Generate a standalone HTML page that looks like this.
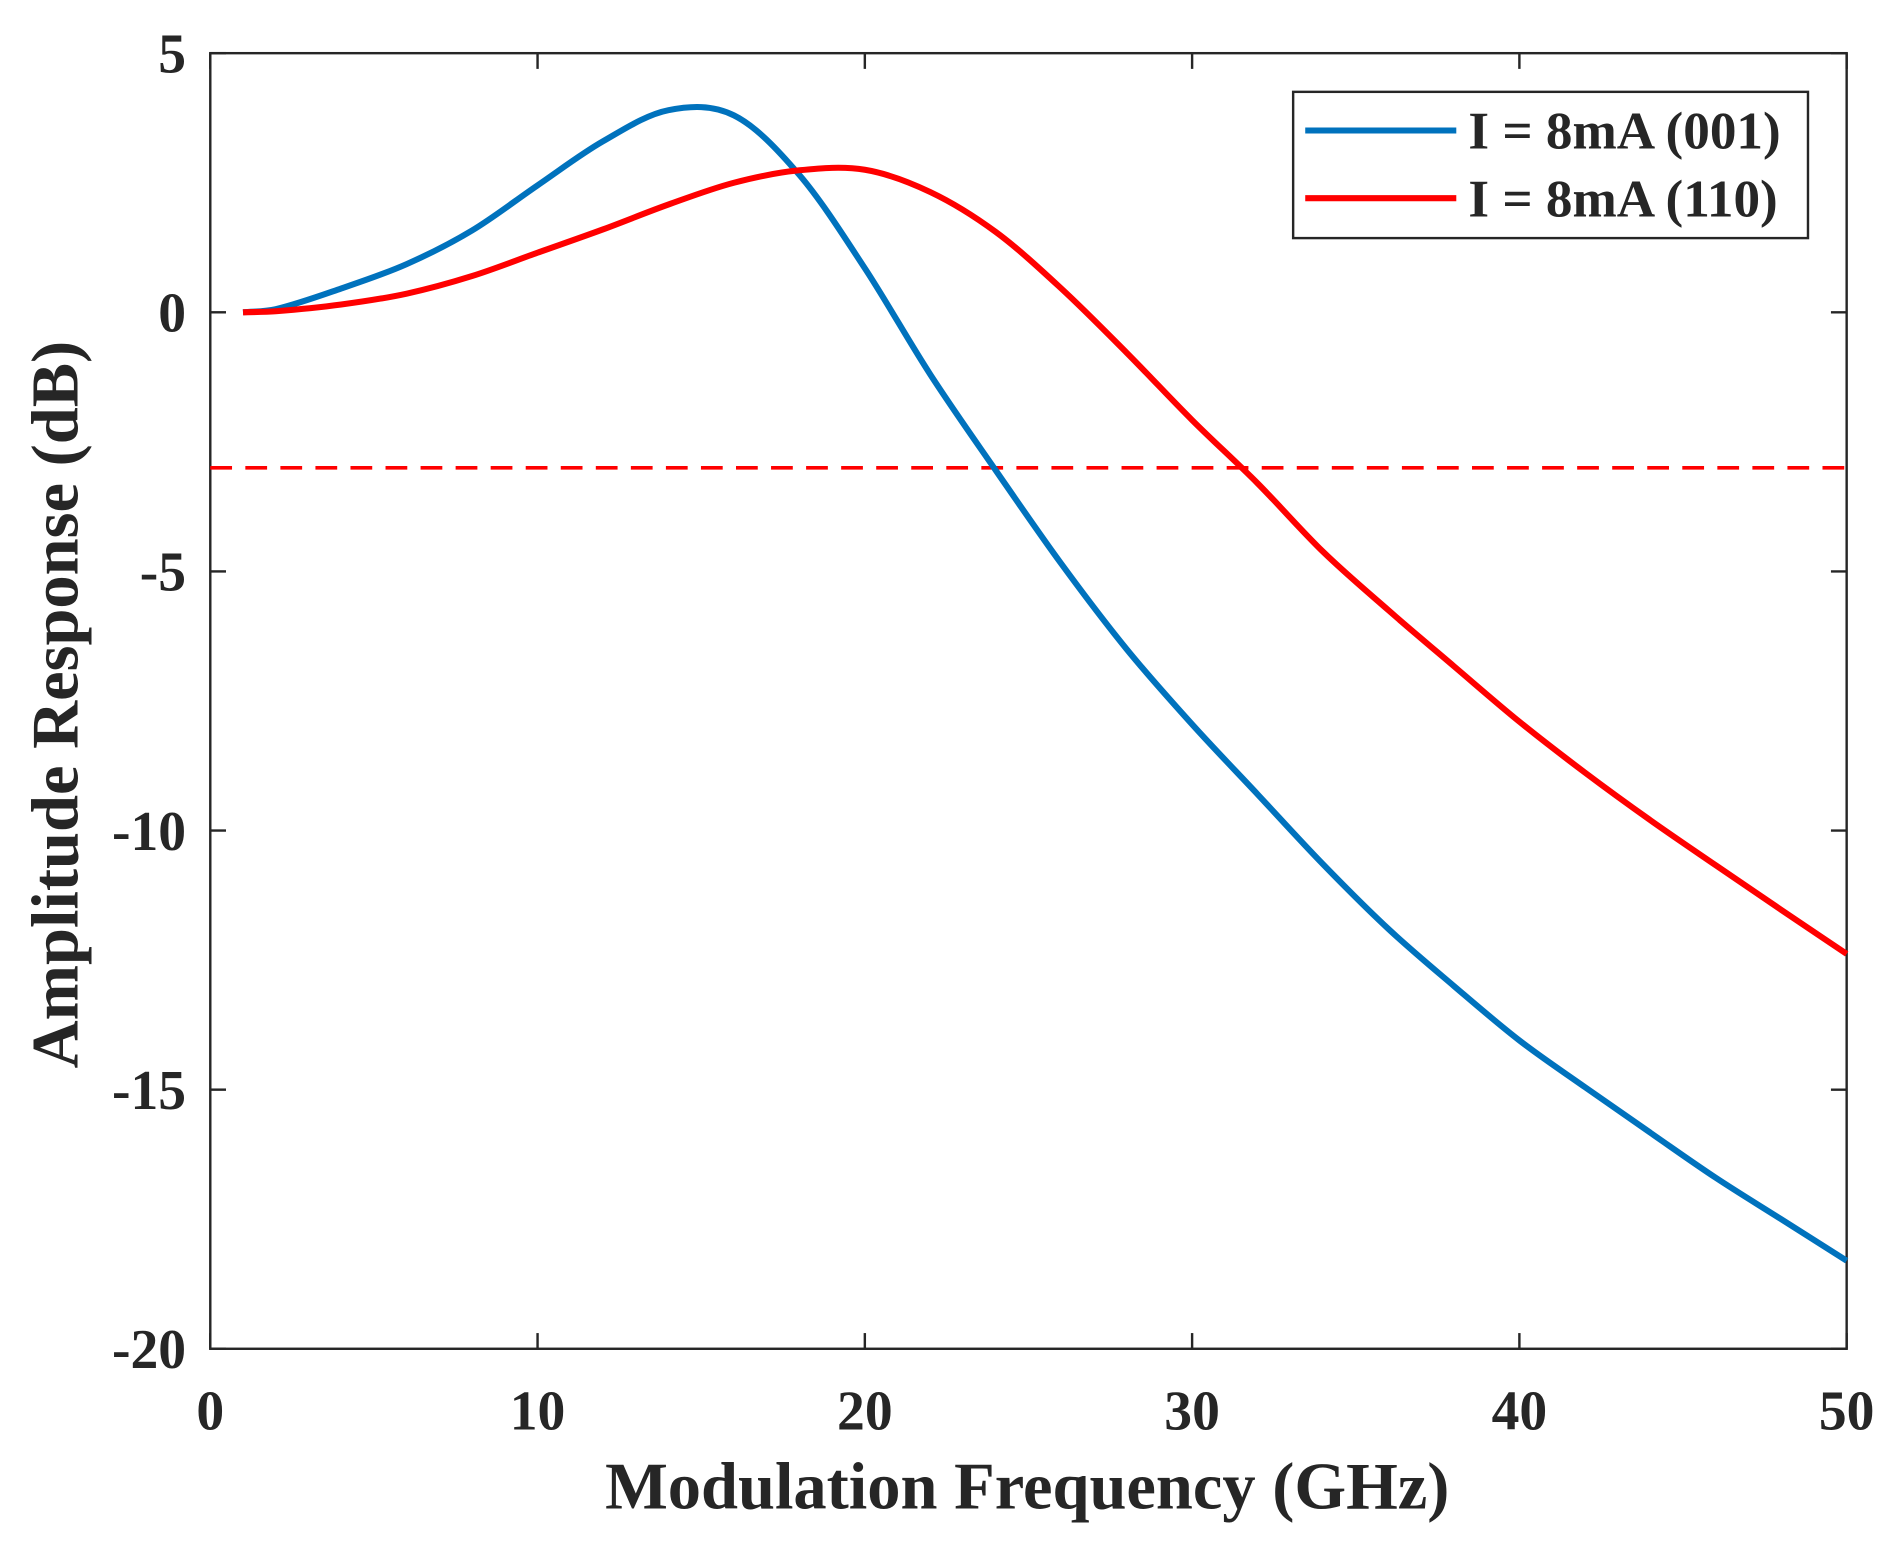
<!DOCTYPE html>
<html><head><meta charset="utf-8"><style>
html,body{margin:0;padding:0;background:#fff}
svg{display:block}
text{font-family:"Liberation Serif",serif;font-weight:bold;fill:#262626}
</style></head><body>
<svg id="chart" width="1895" height="1543" viewBox="0 0 1568 1276.7" preserveAspectRatio="none" xmlns="http://www.w3.org/2000/svg">
<g id="axes"></g>
<g id="series"></g>
<g id="legend">
<rect x="1070" y="76" width="426" height="121" fill="#fff" stroke="#262626" stroke-width="2"/>
<line x1="1080" y1="108" x2="1205" y2="108" stroke="#0072BD" stroke-width="5"/>
<text x="1215" y="123" font-size="44">I = 8mA (001)</text>
<line x1="1080" y1="164" x2="1205" y2="164" stroke="#FF0000" stroke-width="5"/>
<text x="1215" y="179" font-size="44">I = 8mA (110)</text>
</g>
</svg>
<script>
const xTicks=[0,10,20,30,40,50];
const yTicks=[5,0,-5,-10,-15,-20];
const freq001=[1,2,4,6,8,10,12,14,16,18,20,22,24,26,28,30,32,34,36,38,40,42,44,46,48,50];
const amp001=[0,0.06,0.46,0.93,1.58,2.45,3.3,3.9,3.8,2.65,0.85,-1.2,-3.05,-4.85,-6.5,-7.95,-9.3,-10.65,-11.9,-13.0,-14.05,-14.95,-15.83,-16.7,-17.5,-18.3];
const freq110=[1,2,4,6,8,10,12,14,16,18,20,22,24,26,28,30,32,34,36,38,40,42,44,46,48,50];
const amp110=[0,0.02,0.15,0.36,0.7,1.15,1.6,2.08,2.5,2.74,2.75,2.32,1.55,0.46,-0.78,-2.08,-3.3,-4.62,-5.75,-6.83,-7.9,-8.88,-9.8,-10.67,-11.53,-12.38];
const threshold=[-3];
const L=174,R=1528,T=44,B=1116;
const sx=v=>L+(v-0)/(50-0)*(R-L);
const sy=v=>T+(5-v)/(5+20)*(B-T);
const NS="http://www.w3.org/2000/svg";
function mk(tag,attrs,parent){const e=document.createElementNS(NS,tag);for(const k in attrs)e.setAttribute(k,attrs[k]);parent.appendChild(e);return e;}
const ax=document.getElementById('axes'),se=document.getElementById('series');
xTicks.forEach(t=>{
 let l=mk('line',{x1:sx(t),x2:sx(t),y1:B,y2:B-13,stroke:'#262626','stroke-width':2},ax);
 
 
 let l2=mk('line',{x1:sx(t),x2:sx(t),y1:T,y2:T+13,stroke:'#262626','stroke-width':2},ax);
 
 
 let tx=mk('text',{x:sx(t),y:B+67,'font-size':46,'text-anchor':'middle'},ax);tx.textContent=t;
 
 
});
yTicks.forEach(t=>{
 let l=mk('line',{x1:L,x2:L+13,y1:sy(t),y2:sy(t),stroke:'#262626','stroke-width':2},ax);
 
 
 let l2=mk('line',{x1:R,x2:R-13,y1:sy(t),y2:sy(t),stroke:'#262626','stroke-width':2},ax);
 
 
 let tx=mk('text',{x:L-20,y:sy(t)+16,'font-size':46,'text-anchor':'end'},ax);tx.textContent=t;
 
 
});
let box=mk('rect',{x:L,y:T,width:R-L,height:B-T,fill:'none',stroke:'#262626','stroke-width':2},ax);


let xt=mk('text',{x:850,y:1248,'font-size':55,'text-anchor':'middle'},ax);xt.textContent='Modulation Frequency (GHz)';


let yt=mk('text',{x:0,y:0,'font-size':55,'text-anchor':'middle',transform:`translate(64,583) rotate(-90)`},ax);yt.textContent='Amplitude Response (dB)';


function path(xs,ys){
 const p=xs.map((x,i)=>[sx(x),sy(ys[i])]);
 let d=`M${p[0][0]},${p[0][1]}`;
 for(let i=0;i<p.length-1;i++){
  const p0=p[Math.max(0,i-1)],p1=p[i],p2=p[i+1],p3=p[Math.min(p.length-1,i+2)];
  const h=p2[0]-p1[0];
  const m1=(p2[1]-p0[1])/(p2[0]-p0[0]||1),m2=(p3[1]-p1[1])/(p3[0]-p1[0]||1);
  const c1=[p1[0]+h/3,p1[1]+m1*h/3],c2=[p2[0]-h/3,p2[1]-m2*h/3];
  d+=` C${c1[0]},${c1[1]} ${c2[0]},${c2[1]} ${p2[0]},${p2[1]}`;
 }
 return d;
}
let th=mk('line',{x1:L,x2:R,y1:sy(threshold[0]),y2:sy(threshold[0]),stroke:'#FF0000','stroke-width':3,'stroke-dasharray':'18 11'},se);


let s1=mk('path',{d:path(freq001,amp001),fill:'none',stroke:'#0072BD','stroke-width':5},se);


let s2=mk('path',{d:path(freq110,amp110),fill:'none',stroke:'#FF0000','stroke-width':5},se);


</script>
</body></html>
